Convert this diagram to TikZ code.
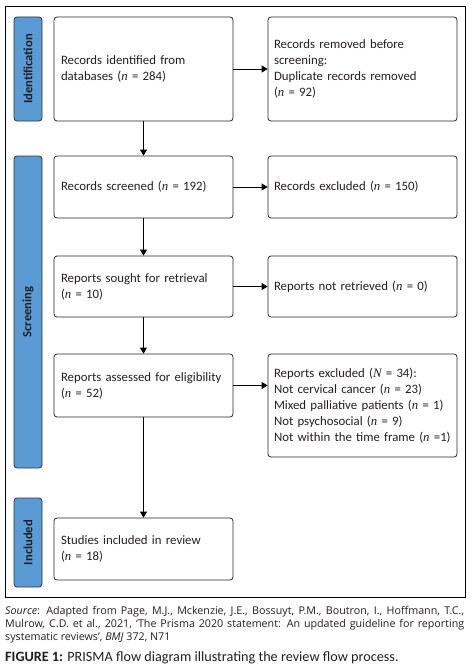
\documentclass[tikz,border=0pt]{standalone}
\usepackage{fontspec}
\setmainfont{Carlito}
\newfontfamily\srcfont{Open Sans}
\newfontfamily\nfont{Liberation Serif}
\newcommand{\nn}{{\nfont\itshape n}}
\newcommand{\NN}{{\nfont\itshape N}}
\usetikzlibrary{arrows.meta,calc}
\definecolor{barblue}{HTML}{5B9BD5}
\definecolor{txt}{HTML}{231F20}
\begin{document}
\begin{tikzpicture}[x=1pt,y=-1pt,
  box/.style={draw=black!85, line width=0.8pt, rounded corners=3pt, fill=white,
    inner sep=0pt, align=left, font=\fontsize{12.8}{16}\selectfont, text=txt},
  lbox/.style={box, minimum width=179pt, text width=165pt},
  rbox/.style={box, minimum width=189pt, text width=177pt},
  bar/.style={draw=black!80, line width=0.8pt, fill=barblue, rounded corners=3pt},
  bartext/.style={rotate=90, font=\bfseries\fontsize{12.6}{14}\selectfont, text=txt},
  arr/.style={line width=0.8pt, -{Triangle[length=6pt,width=7pt]}}]
\useasboundingbox (0,0) rectangle (476,669);
\fill[white] (0,0) rectangle (476,669);
% frame
\draw[line width=0.8pt] (5.5,6) rectangle (465,597);
% bars
\draw[bar] (14,17) rectangle (42,121);
\node[bartext] (bi) at (28,69) {Identification};
\draw[bar] (14,156) rectangle (42,468);
\node[bartext] (bs) at (28,312) {Screening};
\draw[bar] (14,498) rectangle (42,587);
\node[bartext] (bn) at (28,542.5) {Included};
% left boxes
\node[lbox, minimum height=104pt] (l1) at (143.5,69) {Records identified from\\databases (\nn{} = 284)};
\node[lbox, minimum height=62pt] (l2) at (143.5,187) {Records screened (\nn{} = 192)};
\node[lbox, minimum height=61pt] (l3) at (143.5,286.5) {Reports sought for retrieval\\(\nn{} = 10)};
\node[lbox, minimum height=63pt] (l4) at (143.5,385.5) {Reports assessed for eligibility\\(\nn{} = 52)};
\node[lbox, minimum height=62pt] (l5) at (143.5,549) {Studies included in review\\(\nn{} = 18)};
% right boxes
\node[rbox, minimum height=104pt] (r1) at (362.5,69) {Records removed before\\screening:\\Duplicate records removed\\(\nn{} = 92)};
\node[rbox, minimum height=62pt] (r2) at (362.5,187) {Records excluded (\nn{} = 150)};
\node[rbox, minimum height=61pt] (r3) at (362.5,286.5) {Reports not retrieved (\nn{} = 0)};
\node[rbox, minimum height=103pt] (r4) at (362.5,405.5) {Reports excluded (\NN{} = 34):\\Not cervical cancer (\nn{} = 23)\\Mixed palliative patients (\nn{} = 1)\\Not psychosocial (\nn{} = 9)\\Not within the time frame (\nn{} =1)};
% arrows
\draw[arr] (l1) -- (l2);
\draw[arr] (l2) -- (l3);
\draw[arr] (l3) -- (l4);
\draw[arr] (l4) -- (l5);
\draw[arr] (l1.east) -- (r1.west);
\draw[arr] (l2.east) -- (r2.west);
\draw[arr] (l3.east) -- (r3.west);
\draw[arr] (l4.east) -- (l4.east -| r4.west);
% source
\node[anchor=north west, inner sep=0pt, text width=459pt, align=justify,
  font=\srcfont\fontsize{10.7}{13.3}\selectfont, text=txt] (src) at (5,606)
  {\textit{Source}: Adapted from Page, M.J., Mckenzie, J.E., Bossuyt, P.M., Boutron, I., Hoffmann, T.C., Mulrow, C.D. et al., 2021, ‘The Prisma 2020 statement: An updated guideline for reporting systematic reviews’, \textit{BMJ} 372, N71};
\node[anchor=west, inner sep=0pt, font=\fontsize{14.2}{16}\selectfont, text=txt] (cap) at (5,658)
  {\textbf{FIGURE 1:} PRISMA flow diagram illustrating the review flow process.};
\end{tikzpicture}
\end{document}
